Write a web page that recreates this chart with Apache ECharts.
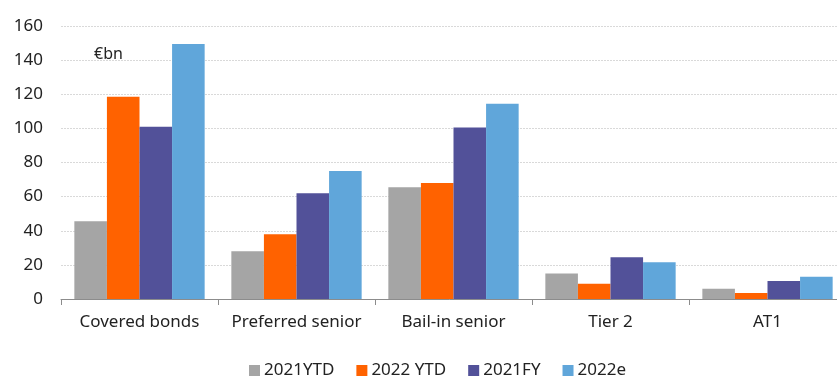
<!DOCTYPE html>
<html>
<head>
<meta charset="utf-8">
<script src="https://cdn.jsdelivr.net/npm/echarts@6/dist/echarts.min.js"></script>
<style>
  html, body { margin: 0; padding: 0; background: #fff; }
  #chart { width: 837px; height: 377px; }
</style>
</head>
<body>
<div id="chart"></div>
<script>
// Bank bond issuance by instrument, €bn
const categories = ['Covered bonds', 'Preferred senior', 'Bail-in senior', 'Tier 2', 'AT1'];
const seriesNames = ['2021YTD', '2022 YTD', '2021FY', '2022e'];
const ytd2021 = [45.5, 28, 65.5, 15, 6];
const ytd2022 = [118.5, 38, 68, 9, 3.5];
const fy2021 = [101, 62, 100.5, 24.5, 10.5];
const est2022 = [149.5, 75, 114.5, 21.5, 13];
const yTicks = [0, 20, 40, 60, 80, 100, 120, 140, 160];

const colors = ['#a5a5a5', '#ff6200', '#525199', '#60a6da'];
const values = [ytd2021, ytd2022, fy2021, est2022];
const fontFamily = '"Noto Sans", "Open Sans", sans-serif';

const chart = echarts.init(document.getElementById('chart'));
chart.setOption({
  animation: false,
  textStyle: { fontFamily: fontFamily },
  // plot runs slightly past the right edge of the canvas
  grid: {
    left: 61, width: 785, top: 26, bottom: 78,
    containLabel: false, outerBoundsMode: 'none'
  },
  graphic: [{
    type: 'text', left: 94, top: 46,
    style: { text: '€bn', fontSize: 16, fill: '#222', fontFamily: fontFamily }
  }],
  legend: {
    left: 244, top: 357,
    itemWidth: 11, itemHeight: 11, itemGap: 22,
    icon: 'rect',
    textStyle: { fontSize: 17, color: '#222', padding: [0, 0, 0, -1] },
    data: seriesNames
  },
  xAxis: {
    type: 'category',
    data: categories,
    axisLine: { lineStyle: { color: '#8c8c8c', width: 1 } },
    axisTick: { show: true, length: 6, lineStyle: { color: '#8c8c8c' } },
    axisLabel: { fontSize: 17, color: '#222', margin: 15, interval: 0 }
  },
  yAxis: {
    type: 'value',
    min: yTicks[0], max: yTicks[yTicks.length - 1], interval: 20,
    axisLine: { show: false },
    axisTick: { show: false },
    axisLabel: { fontSize: 17, color: '#222', margin: 18 },
    splitLine: { lineStyle: { color: '#d9d9d9', width: 1, type: [2, 1] } }
  },
  series: seriesNames.map((name, i) => ({
    name: name,
    type: 'bar',
    data: values[i],
    barGap: '0%',
    barCategoryGap: '17%',
    itemStyle: { color: colors[i] }
  }))
});
</script>
</body>
</html>
